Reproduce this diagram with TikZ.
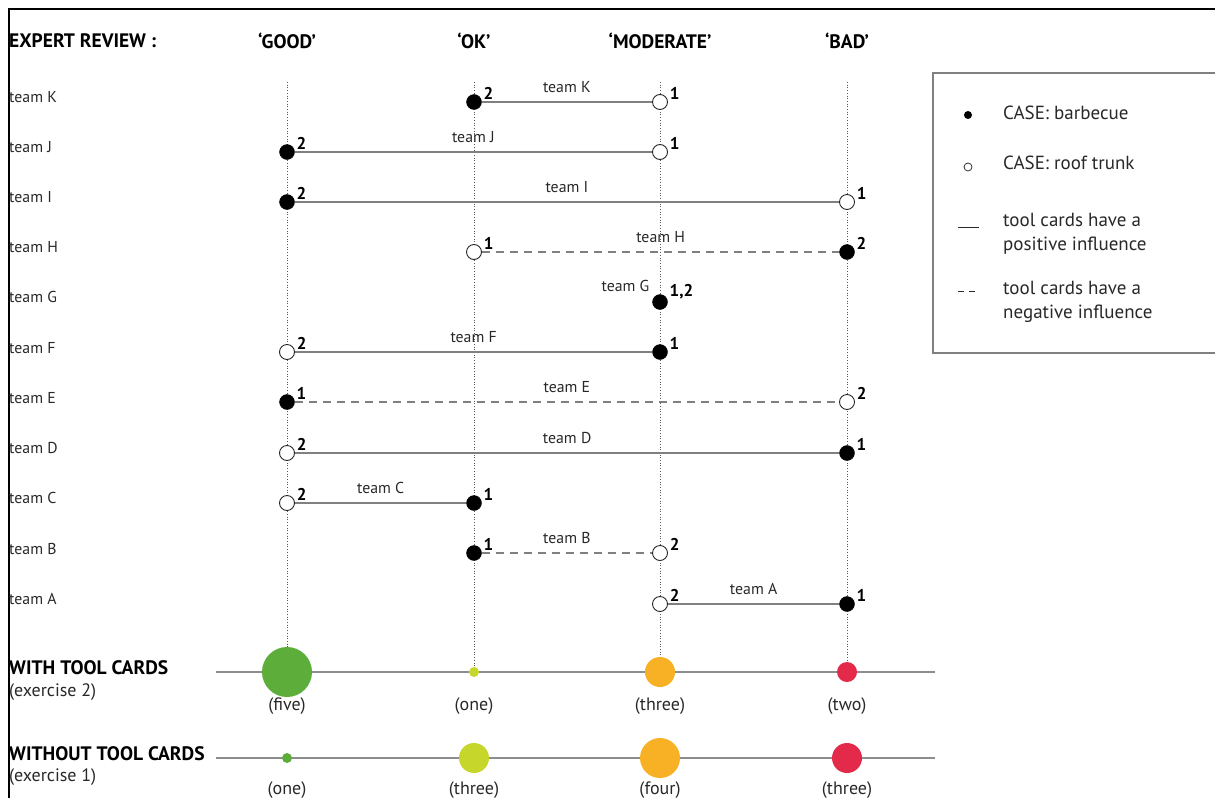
\documentclass[tikz,border=0pt]{standalone}
\usepackage{fontspec}
\setmainfont{PT Sans}
\usetikzlibrary{positioning}
\definecolor{linegrey}{RGB}{128,128,128}
\definecolor{txtgrey}{RGB}{40,40,40}
\definecolor{dotgreen}{RGB}{92,173,58}
\definecolor{dotlime}{RGB}{198,214,42}
\definecolor{dotorange}{RGB}{248,177,36}
\definecolor{dotred}{RGB}{228,42,74}
\tikzset{bbq/.style={circle,fill=black,draw=black,minimum size=15pt,inner sep=0pt},
        trunk/.style={circle,fill=white,draw=black!85,line width=0.9pt,minimum size=15pt,inner sep=0pt},
        score/.style={font=\fontsize{17}{17}\selectfont\bfseries,inner sep=0pt},
        teamtxt/.style={font=\fontsize{15.8}{16}\selectfont,text=txtgrey,inner sep=0pt},
        rowtxt/.style={teamtxt,anchor=west},
        headtxt/.style={font=\fontsize{19.5}{20}\selectfont\bfseries,inner sep=0pt},
        legtxt/.style={font=\fontsize{19}{24}\selectfont,text=txtgrey,anchor=west,align=left,inner sep=0pt},
        counttxt/.style={font=\fontsize{18}{18}\selectfont,text=txtgrey,inner sep=0pt},
        link/.style={draw=linegrey,line width=1.6pt},
        neglink/.style={link,dash pattern=on 8pt off 6pt},
        guide/.style={draw=black!65,dotted,line width=0.7pt},
        axisline/.style={draw=linegrey!90,line width=1.6pt},
        bubble/.style={circle,inner sep=0pt,draw=none}}

\begin{document}
\begin{tikzpicture}[x=1pt,y=-1pt]
  \useasboundingbox (0,0) rectangle (1215,798);
  % frame
  \draw[line width=1.5pt] (9,798) -- (9,9) -- (1215,9);
  % headings
  \node[headtxt,anchor=west] (review) at (9,41) {EXPERT REVIEW :};
  \node[headtxt] (hgood) at (287,41) {‘GOOD’};
  \node[headtxt] (hok) at (474,41) {‘OK’};
  \node[headtxt] (hmod) at (660,41) {‘MODERATE’};
  \node[headtxt] (hbad) at (847,41) {‘BAD’};

  % bottom rows
  \coordinate (wstart) at (216,672);
  \coordinate (wend) at (935,672);
  \coordinate (ostart) at (216,758);
  \coordinate (oend) at (935,758);
  \draw[axisline] (wstart) -- (wend);
  \draw[axisline] (ostart) -- (oend);
  \node[bubble,fill=dotgreen,minimum size=50pt] (wgood) at (287,672) {};
  \node[bubble,fill=dotlime,minimum size=10pt] (wok) at (474,672) {};
  \node[bubble,fill=dotorange,minimum size=30pt] (wmod) at (660,672) {};
  \node[bubble,fill=dotred,minimum size=20pt] (wbad) at (847,672) {};
  \node[bubble,fill=dotgreen,minimum size=10pt] (ogood) at (287,758) {};
  \node[bubble,fill=dotlime,minimum size=30pt] (ook) at (474,758) {};
  \node[bubble,fill=dotorange,minimum size=40pt] (omod) at (660,758) {};
  \node[bubble,fill=dotred,minimum size=30pt] (obad) at (847,758) {};
  \node[counttxt] (nwgood) at (287,706) {(five)};
  \node[counttxt] (nwok) at (474,706) {(one)};
  \node[counttxt] (nwmod) at (660,706) {(three)};
  \node[counttxt] (nwbad) at (847,706) {(two)};
  \node[counttxt] (nogood) at (287,790) {(one)};
  \node[counttxt] (nook) at (474,790) {(three)};
  \node[counttxt] (nomod) at (660,790) {(four)};
  \node[counttxt] (nobad) at (847,790) {(three)};
  \node[headtxt,anchor=west] (with) at (9,668) {WITH TOOL CARDS};
  \node[counttxt,anchor=west] (ex2) at (9,692) {(exercise 2)};
  \node[headtxt,anchor=west] (without) at (9,754) {WITHOUT TOOL CARDS};
  \node[counttxt,anchor=west] (ex1) at (9,777) {(exercise 1)};

  % dotted columns
  \coordinate (cgood) at (287,82);
  \coordinate (cok) at (474,82);
  \coordinate (cmod) at (660,82);
  \coordinate (cbad) at (847,82);
  \draw[guide] (cgood) -- (wgood);
  \draw[guide] (cok) -- (wok);
  \draw[guide] (cmod) -- (wmod);
  \draw[guide] (cbad) -- (wbad);

  % row names
  \node[rowtxt] (rk) at (9,97) {team K};
  \node[rowtxt] (rj) at (9,147) {team J};
  \node[rowtxt] (ri) at (9,197) {team I};
  \node[rowtxt] (rh) at (9,247) {team H};
  \node[rowtxt] (rg) at (9,297) {team G};
  \node[rowtxt] (rf) at (9,348) {team F};
  \node[rowtxt] (re) at (9,398) {team E};
  \node[rowtxt] (rd) at (9,448) {team D};
  \node[rowtxt] (rc) at (9,498) {team C};
  \node[rowtxt] (rb) at (9,549) {team B};
  \node[rowtxt] (ra) at (9,599) {team A};

  % team K
  \node[bbq] (k1) at (474,102) {};
  \node[trunk] (k2) at (660,102) {};
  \draw[link] (k1) -- node[teamtxt,above=9pt] (lk) {team K} (k2);
  \node[score,above right=-3pt and 4pt of k1] (sk1) {2};
  \node[score,above right=-3pt and 4pt of k2] (sk2) {1};
  % team J
  \node[bbq] (j1) at (287,152) {};
  \node[trunk] (j2) at (660,152) {};
  \draw[link] (j1) -- node[teamtxt,above=9pt] (lj) {team J} (j2);
  \node[score,above right=-3pt and 4pt of j1] (sj1) {2};
  \node[score,above right=-3pt and 4pt of j2] (sj2) {1};
  % team I
  \node[bbq] (i1) at (287,202) {};
  \node[trunk] (i2) at (847,202) {};
  \draw[link] (i1) -- node[teamtxt,above=9pt] (li) {team I} (i2);
  \node[score,above right=-3pt and 4pt of i1] (si1) {2};
  \node[score,above right=-3pt and 4pt of i2] (si2) {1};
  % team H
  \node[trunk] (h1) at (474,252) {};
  \node[bbq] (h2) at (847,252) {};
  \draw[neglink] (h1) -- node[teamtxt,above=9pt] (lh) {team H} (h2);
  \node[score,above right=-3pt and 4pt of h1] (sh1) {1};
  \node[score,above right=-3pt and 4pt of h2] (sh2) {2};
  % team G
  \node[bbq] (g1) at (660,302) {};
  \node[teamtxt,above left=5pt and 5pt of g1] (lg) {team G};
  \node[score,above right=-3pt and 4pt of g1] (sg1) {1,2};
  % team F
  \node[trunk] (f1) at (287,352) {};
  \node[bbq] (f2) at (660,352) {};
  \draw[link] (f1) -- node[teamtxt,above=9pt] (lf) {team F} (f2);
  \node[score,above right=-3pt and 4pt of f1] (sf1) {2};
  \node[score,above right=-3pt and 4pt of f2] (sf2) {1};
  % team E
  \node[bbq] (e1) at (287,402) {};
  \node[trunk] (e2) at (847,402) {};
  \draw[neglink] (e1) -- node[teamtxt,above=9pt] (le) {team E} (e2);
  \node[score,above right=-3pt and 4pt of e1] (se1) {1};
  \node[score,above right=-3pt and 4pt of e2] (se2) {2};
  % team D
  \node[trunk] (d1) at (287,453) {};
  \node[bbq] (d2) at (847,453) {};
  \draw[link] (d1) -- node[teamtxt,above=9pt] (ld) {team D} (d2);
  \node[score,above right=-3pt and 4pt of d1] (sd1) {2};
  \node[score,above right=-3pt and 4pt of d2] (sd2) {1};
  % team C
  \node[trunk] (c1) at (287,503) {};
  \node[bbq] (c2) at (474,503) {};
  \draw[link] (c1) -- node[teamtxt,above=9pt] (lc) {team C} (c2);
  \node[score,above right=-3pt and 4pt of c1] (sc1) {2};
  \node[score,above right=-3pt and 4pt of c2] (sc2) {1};
  % team B
  \node[bbq] (b1) at (474,553) {};
  \node[trunk] (b2) at (660,553) {};
  \draw[neglink] (b1) -- node[teamtxt,above=9pt] (lb) {team B} (b2);
  \node[score,above right=-3pt and 4pt of b1] (sb1) {1};
  \node[score,above right=-3pt and 4pt of b2] (sb2) {2};
  % team A
  \node[trunk] (a1) at (660,604) {};
  \node[bbq] (a2) at (847,604) {};
  \draw[link] (a1) -- node[teamtxt,above=9pt] (la) {team A} (a2);
  \node[score,above right=-3pt and 4pt of a1] (sa1) {2};
  \node[score,above right=-3pt and 4pt of a2] (sa2) {1};

  % legend
  \draw[draw=linegrey,line width=1.5pt] (1215,73) -- (933,73) -- (933,353) -- (1215,353);
  \node[circle,fill=black,minimum size=8pt,inner sep=0pt] (kbbq) at (968,115) {};
  \node[legtxt] (tbbq) at (1003,113) {CASE: barbecue};
  \node[circle,draw=black!80,fill=white,line width=0.8pt,minimum size=8pt,inner sep=0pt] (ktrunk) at (968,167) {};
  \node[legtxt] (ttrunk) at (1003,163) {CASE: roof trunk};
  \coordinate (kposa) at (958,227);
  \coordinate (kposb) at (979,227);
  \draw[draw=txtgrey,line width=0.9pt] (kposa) -- (kposb);
  \node[legtxt] (tpos) at (1003,234) {tool cards have a\\positive influence};
  \coordinate (knega) at (958,291);
  \coordinate (knegb) at (979,291);
  \draw[draw=txtgrey,line width=0.9pt,dash pattern=on 6pt off 5pt] (knega) -- (knegb);
  \node[legtxt] (tneg) at (1003,302) {tool cards have a\\negative influence};
\end{tikzpicture}
\end{document}
